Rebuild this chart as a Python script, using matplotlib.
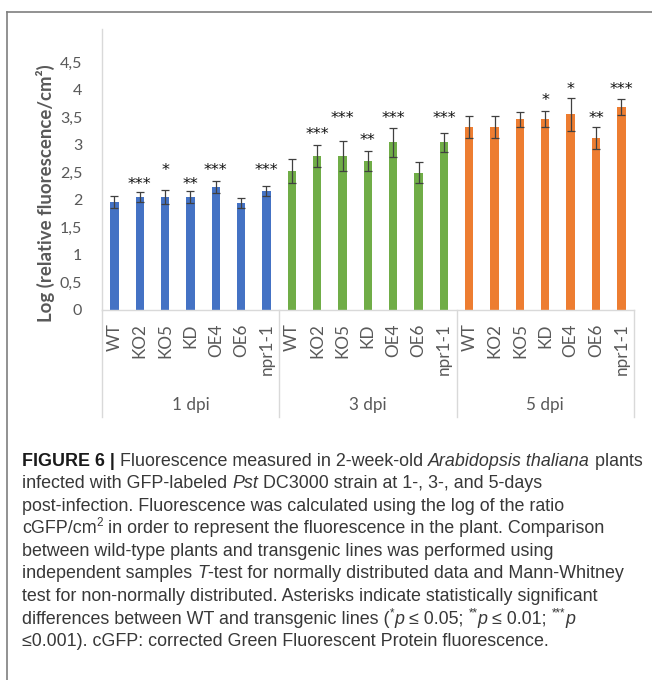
import matplotlib
matplotlib.use("Agg")
import matplotlib.pyplot as plt
from matplotlib.lines import Line2D
import matplotlib.transforms as mtransforms

# ---- data ----
genotypes = ["WT", "KO2", "KO5", "KD", "OE4", "OE6", "npr1-1"]
timepoints = ["1 dpi", "3 dpi", "5 dpi"]

mean_1dpi = [1.96, 2.05, 2.05, 2.05, 2.23, 1.94, 2.16]
err_1dpi = [0.10, 0.085, 0.135, 0.115, 0.115, 0.09, 0.085]
mean_3dpi = [2.52, 2.80, 2.80, 2.70, 3.04, 2.49, 3.04]
err_3dpi = [0.22, 0.20, 0.27, 0.18, 0.27, 0.19, 0.18]
mean_5dpi = [3.32, 3.32, 3.46, 3.47, 3.55, 3.13, 3.68]
err_5dpi = [0.20, 0.20, 0.13, 0.14, 0.30, 0.20, 0.15]

sig_1dpi = ["", "***", "*", "**", "***", "", "***"]
sig_3dpi = ["", "***", "***", "**", "***", "", "***"]
sig_5dpi = ["", "", "", "*", "*", "**", "***"]
# height (axis units) at which each significance mark is centred
sig_level_1dpi = [0, 2.37, 2.63, 2.37, 2.63, 0, 2.63]
sig_level_3dpi = [0, 3.28, 3.56, 3.17, 3.56, 0, 3.56]
sig_level_5dpi = [0, 0, 0, 3.89, 4.09, 3.56, 4.09]

yticks = [0, 0.5, 1, 1.5, 2, 2.5, 3, 3.5, 4, 4.5]
ytick_labels = ["0", "0,5", "1", "1,5", "2", "2,5", "3", "3,5", "4", "4,5"]
ylabel = "Log (relative fluorescence/cm²)"

colors = ["#4472C4", "#70AD47", "#ED7D31"]

means = [mean_1dpi, mean_3dpi, mean_5dpi]
errs = [err_1dpi, err_3dpi, err_5dpi]
sigs = [sig_1dpi, sig_3dpi, sig_5dpi]
sig_levels = [sig_level_1dpi, sig_level_3dpi, sig_level_5dpi]

W, H = 652, 680
fig = plt.figure(figsize=(W / 100, H / 100), dpi=100)
fig.patch.set_facecolor("white")

def fx(px):
    return px / W

def fy(py):
    return 1 - py / H

ax_l, ax_r, ax_t, ax_b = 101.7, 634, 29, 310
ax = fig.add_axes([fx(ax_l), fy(ax_b), fx(ax_r - ax_l), (ax_b - ax_t) / H])

chart_font = ["Lato", "DejaVu Sans"]
grey_txt = "#595959"
axis_grey = "#D9D9D9"

n_g = len(genotypes)
positions = []
labels = []
for gi, (m, e, c) in enumerate(zip(means, errs, colors)):
    xs = [gi * n_g + i for i in range(n_g)]
    positions += xs
    labels += genotypes
    ax.bar(xs, m, width=0.33, color=c, zorder=2)
    ax.errorbar(xs, m, yerr=e, fmt="none", ecolor="#404040", elinewidth=0.9,
                capsize=2.6, capthick=0.9, zorder=3)

star_tr = mtransforms.offset_copy(ax.transData, fig=fig, y=-6.9, units="points")
for gi in range(len(timepoints)):
    for i in range(n_g):
        s = sigs[gi][i]
        if s:
            ax.text(gi * n_g + i, sig_levels[gi][i], s, transform=star_tr,
                    ha="center", va="baseline", fontsize=11.5, color="#111111",
                    family="DejaVu Sans")

ax.set_xlim(-0.5, len(positions) - 0.5)
ax.set_ylim(0, (ax_b - ax_t) / 55.1)
ax.set_yticks(yticks)
ax.set_yticklabels(ytick_labels, family=chart_font, fontsize=11.5, color=grey_txt)
ax.tick_params(axis="y", length=0, pad=14)
ax.set_xticks(positions)
ax.set_xticklabels(labels, rotation=90, family=chart_font, fontsize=12.3,
                   color=grey_txt)
ax.tick_params(axis="x", length=0, pad=9.5)

for side in ["top", "right"]:
    ax.spines[side].set_visible(False)
ax.spines["left"].set_color(axis_grey)
ax.spines["bottom"].set_color(axis_grey)
ax.spines["left"].set_linewidth(1.0)
ax.spines["bottom"].set_linewidth(1.0)

ax.set_ylabel(ylabel, family=chart_font, fontsize=13.4, fontweight="bold",
              color=grey_txt)
ax.yaxis.set_label_coords(-0.087, 0.415)

# multi-level category axis: group dividers and group names
drop = -(417 - ax_b) / (ax_b - ax_t)
bt = mtransforms.blended_transform_factory(ax.transData, ax.transAxes)
for k in range(len(timepoints) + 1):
    xd = k * n_g - 0.5
    ax.add_line(Line2D([xd, xd], [0, drop], transform=bt, color=axis_grey,
                       lw=1.0, clip_on=False))
label_y = -(405 - ax_b) / (ax_b - ax_t)
for k, tp in enumerate(timepoints):
    ax.text(k * n_g + (n_g - 1) / 2, label_y, tp, transform=bt, ha="center",
            va="center", family=chart_font, fontsize=12.3, color=grey_txt)

# outer frame
frame_col = "#7f7f7f"
fig.add_artist(Line2D([fx(7), 1.0], [fy(12), fy(12)], transform=fig.transFigure,
                      color=frame_col, lw=1.2))
fig.add_artist(Line2D([fx(7), fx(7)], [fy(12), 0.0], transform=fig.transFigure,
                      color=frame_col, lw=1.2))

# caption
cap_font = ["Liberation Sans", "DejaVu Sans"]
cap_size = 12.9
cap_col = "#383838"
caption_lines = [
    [("FIGURE 6 |", "bold"), (" Fluorescence measured in 2-week-old ", "n"),
     ("Arabidopsis thaliana", "i"), (" plants", "n")],
    [("infected with GFP-labeled ", "n"), ("Pst", "i"),
     (" DC3000 strain at 1-, 3-, and 5-days", "n")],
    [("post-infection. Fluorescence was calculated using the log of the ratio", "n")],
    [("cGFP/cm", "n"), ("2", "sup"),
     (" in order to represent the fluorescence in the plant. Comparison", "n")],
    [("between wild-type plants and transgenic lines was performed using", "n")],
    [("independent samples ", "n"), ("T", "i"),
     ("-test for normally distributed data and Mann-Whitney", "n")],
    [("test for non-normally distributed. Asterisks indicate statistically significant", "n")],
    [("differences between WT and transgenic lines (", "n"), ("*", "sup"), ("p", "i"),
     (" ≤ 0.05; ", "n"), ("**", "sup"), ("p", "i"), (" ≤ 0.01; ", "n"),
     ("***", "sup"), ("p", "i")],
    [("≤0.001). cGFP: corrected Green Fluorescent Protein fluorescence.", "n")],
]

renderer = fig.canvas.get_renderer()
x0 = 22
base0 = 465.5
step = 22.6
for li, pieces in enumerate(caption_lines):
    x = x0
    yb = base0 + li * step
    for txt, sty in pieces:
        kw = dict(family=cap_font, fontsize=cap_size, color=cap_col)
        yy = yb
        if sty == "bold":
            kw["fontweight"] = "bold"
            kw["color"] = "#1a1a1a"
        elif sty == "i":
            kw["style"] = "italic"
        elif sty == "sup":
            kw["fontsize"] = cap_size * 0.65
            yy = yb - 7
        t = fig.text(fx(x), fy(yy), txt, ha="left", va="baseline", **kw)
        bb = t.get_window_extent(renderer)
        x += bb.width

fig.savefig("out.png", dpi=100, facecolor="white")
